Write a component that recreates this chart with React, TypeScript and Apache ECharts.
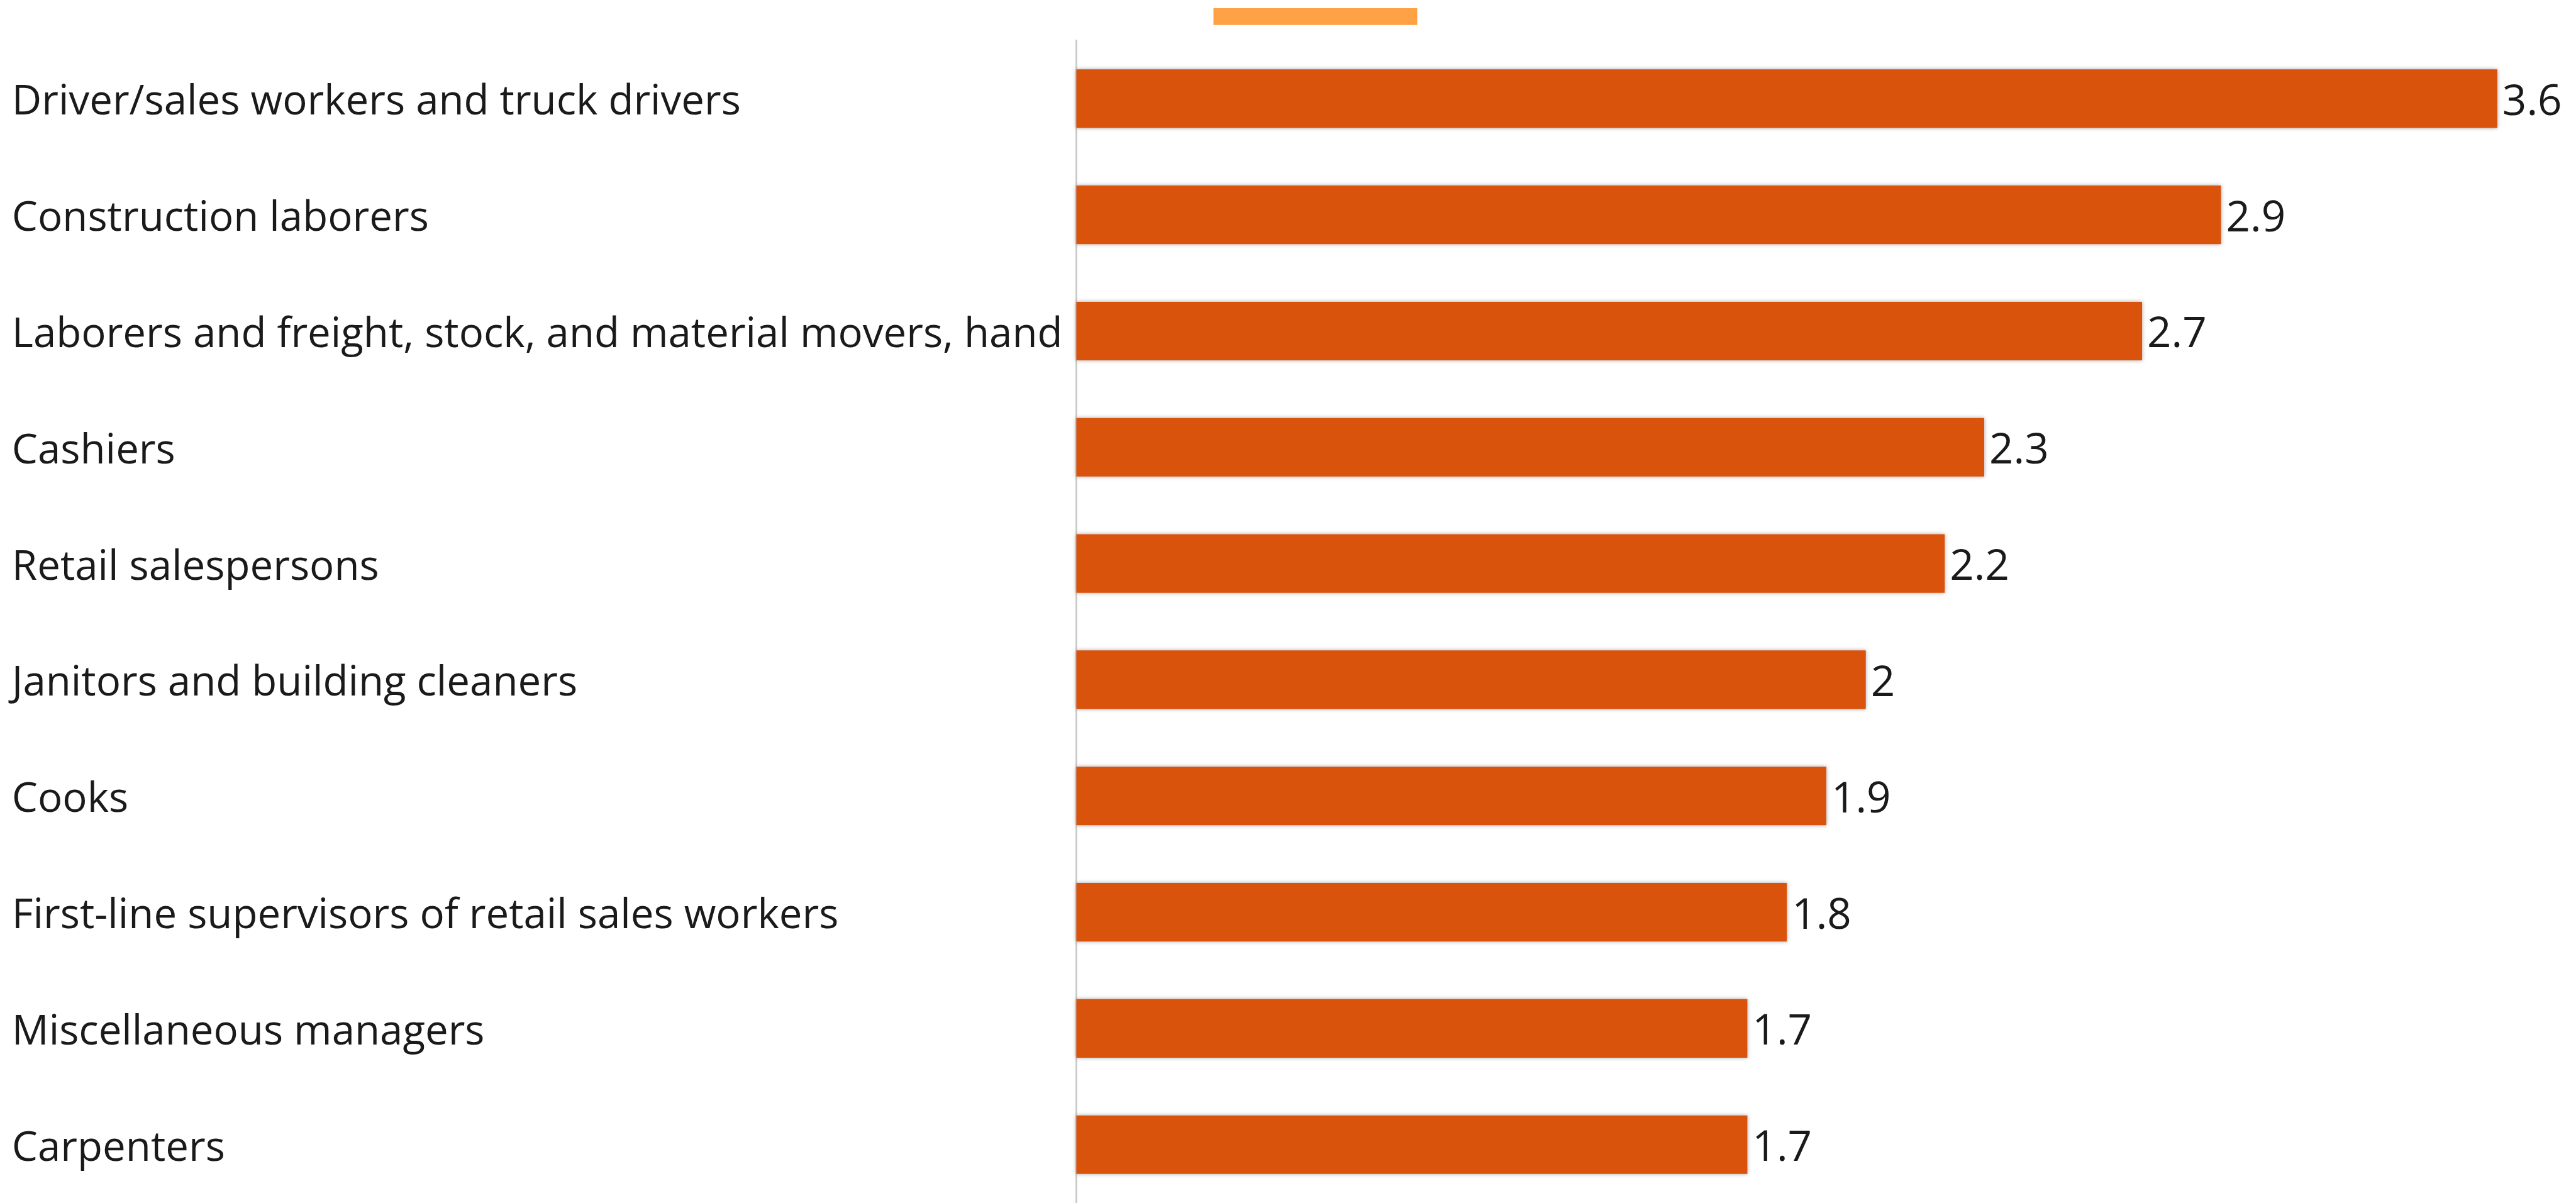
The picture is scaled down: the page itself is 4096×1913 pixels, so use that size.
import React, { useEffect, useRef } from "react";
import * as echarts from "echarts";

const categories = [
  "Driver/sales workers and truck drivers",
  "Construction laborers",
  "Laborers and freight, stock, and material movers, hand",
  "Cashiers",
  "Retail salespersons",
  "Janitors and building cleaners",
  "Cooks",
  "First-line supervisors of retail sales workers",
  "Miscellaneous managers",
  "Carpenters",
];
const values = [3.6, 2.9, 2.7, 2.3, 2.2, 2, 1.9, 1.8, 1.7, 1.7];

const S = 0.991;
const W = 4096;
const H = 1913;

export default function App() {
  const ref = useRef<HTMLDivElement>(null);
  useEffect(() => {
    const chart = echarts.init(ref.current!, null, { renderer: "svg" });
    chart.setOption({
      animation: false,
      backgroundColor: "#ffffff",
      textStyle: { fontFamily: "Open Sans" },
      grid: {
        left: 1727 * S,
        top: 65 * S,
        width: 2280 * S,
        height: 1865 * S,
        containLabel: false,
      },
      xAxis: {
        type: "value",
        min: 0,
        max: 3.6,
        show: false,
      },
      yAxis: {
        type: "category",
        data: categories,
        inverse: true,
        axisLine: { show: true, lineStyle: { color: "#cccccc", width: 3 * S } },
        axisTick: { show: false },
        splitLine: { show: false },
        axisLabel: {
          align: "left",
          margin: (1727 - 19) * S,
          color: "#1a1a1a",
          fontSize: 66 * S,
          fontFamily: "Open Sans",
        },
      },
      graphic: [
        {
          type: "rect",
          shape: { x: 1947 * S, y: 13 * S, width: 327 * S, height: 27 * S },
          style: { fill: "#FFA245" },
        },
      ],
      series: [
        {
          type: "bar",
          data: values,
          barWidth: 94 * S,
          itemStyle: {
            color: "#D9530E",
            shadowBlur: 6 * S,
            shadowColor: "rgba(0,0,0,0.35)",
          },
          label: {
            show: true,
            position: "right",
            distance: 8 * S,
            color: "#1a1a1a",
            fontSize: 68 * S,
            fontFamily: "Open Sans",
          },
        },
      ],
    });
    return () => chart.dispose();
  }, []);
  return (
    <div
      ref={ref}
      style={{ position: "fixed", left: 0, top: 0, width: W, height: H }}
    />
  );
}
